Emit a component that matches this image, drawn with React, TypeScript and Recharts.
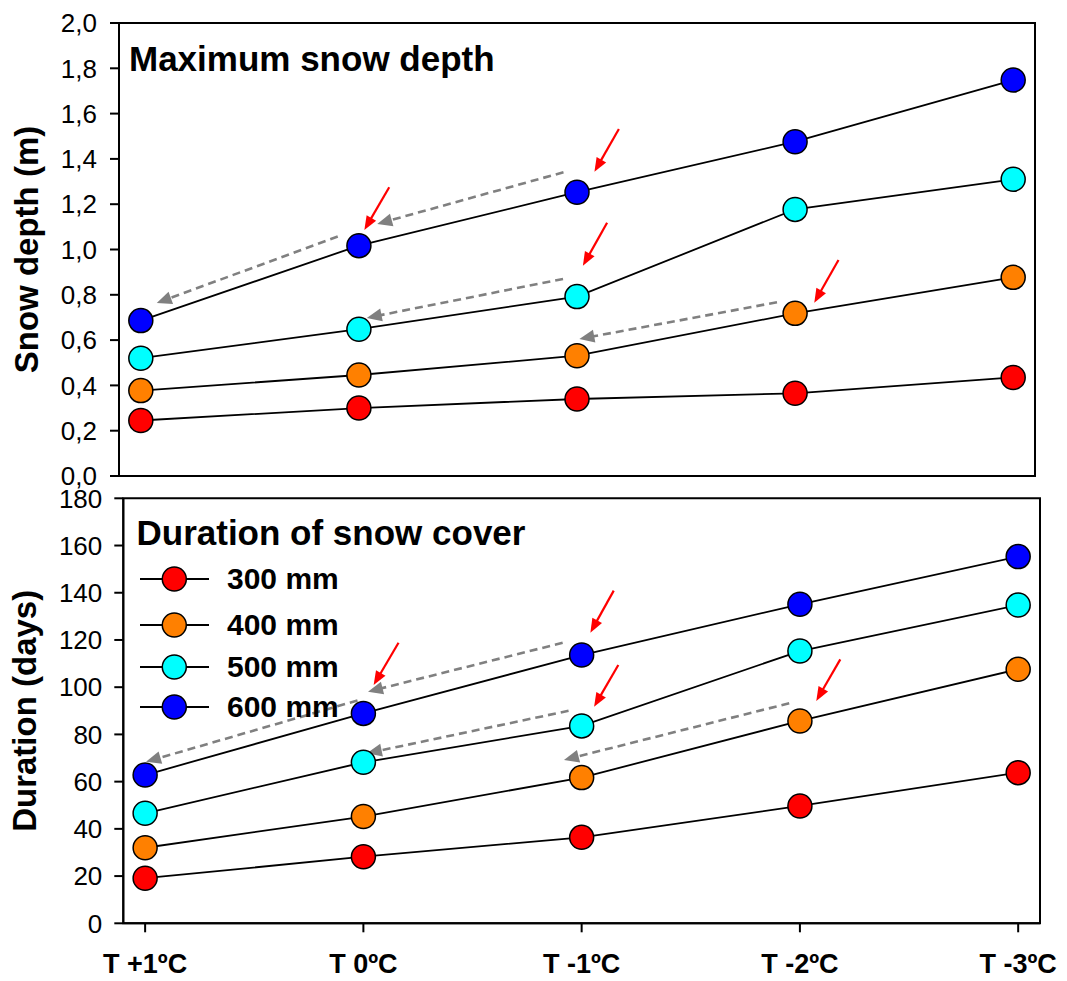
import React from "react";
import {
  LineChart,
  Line,
  XAxis,
  YAxis,
  ReferenceLine,
  ReferenceArea,
  Legend,
} from "recharts";

const categories = ["T +1ºC", "T 0ºC", "T -1ºC", "T -2ºC", "T -3ºC"];
const seriesNames = ["300 mm", "400 mm", "500 mm", "600 mm"];
const seriesKeys = ["s300", "s400", "s500", "s600"];
const seriesColors = ["#FF0000", "#FF8000", "#00FFFF", "#0000FF"];

// maximum snow depth (m)
const depth300 = [0.245, 0.3, 0.34, 0.365, 0.435];
const depth400 = [0.377, 0.446, 0.531, 0.718, 0.877];
const depth500 = [0.52, 0.648, 0.792, 1.177, 1.31];
const depth600 = [0.686, 1.017, 1.253, 1.476, 1.748];

// duration of snow cover (days)
const days300 = [19.1, 28.2, 36.4, 49.7, 63.8];
const days400 = [32.0, 45.2, 61.7, 85.7, 107.6];
const days500 = [46.6, 68.2, 83.6, 115.3, 134.8];
const days600 = [62.8, 88.9, 113.6, 135.1, 155.3];

const depthTicks = [0, 0.2, 0.4, 0.6, 0.8, 1.0, 1.2, 1.4, 1.6, 1.8, 2.0];
const daysTicks = [0, 20, 40, 60, 80, 100, 120, 140, 160, 180];
const xTicks = [0, 1, 2, 3, 4];
const xDomain: [number, number] = [-0.1, 4.1];

// annotation arrows: [x0, y0, x1(tip), y1(tip)] in data units
const depthGrayArrows = [
  [0.903, 1.057, 0.073, 0.764],
  [1.938, 1.341, 1.084, 1.113],
  [1.936, 0.87, 1.036, 0.698],
  [2.917, 0.767, 2.011, 0.605],
];
const depthRedArrows = [
  [1.139, 1.275, 1.025, 1.086],
  [2.192, 1.532, 2.08, 1.343],
  [2.138, 1.118, 2.027, 0.928],
  [3.199, 0.954, 3.088, 0.765],
];
const daysGrayArrows = [
  [0.973, 94.4, 0.004, 68.4],
  [1.913, 118.8, 1.021, 98.1],
  [1.94, 90.0, 1.016, 72.0],
  [2.951, 93.2, 1.919, 69.2],
];
const daysRedArrows = [
  [1.161, 118.8, 1.047, 100.9],
  [2.147, 140.9, 2.04, 123.1],
  [2.168, 109.4, 2.057, 91.7],
  [3.185, 111.8, 3.075, 94.2],
];

const font = "'Liberation Sans', Arial, Helvetica, sans-serif";

function buildRows(series: number[][]) {
  return categories.map((_, i) => {
    const row: Record<string, number> = { x: i };
    seriesKeys.forEach((k, j) => (row[k] = series[j][i]));
    return row;
  });
}

const depthData = buildRows([depth300, depth400, depth500, depth600]);
const daysData = buildRows([days300, days400, days500, days600]);

function arrowShape(gray: boolean) {
  return (p: any) => {
    const { x1, y1, x2, y2 } = p;
    const dx = x2 - x1;
    const dy = y2 - y1;
    const len = Math.hypot(dx, dy) || 1;
    const ux = dx / len;
    const uy = dy / len;
    const hl = gray ? 15 : 14;
    const hw = gray ? 6.5 : 5.5;
    const bx = x2 - ux * hl;
    const by = y2 - uy * hl;
    const nx = -uy;
    const ny = ux;
    const color = gray ? "#808080" : "#FF0000";
    return (
      <g>
        <line
          x1={x1}
          y1={y1}
          x2={bx + ux * 2}
          y2={by + uy * 2}
          stroke={color}
          strokeWidth={gray ? 2.6 : 2.2}
          strokeDasharray={gray ? "8 5" : undefined}
        />
        <polygon
          points={`${x2},${y2} ${bx + nx * hw},${by + ny * hw} ${bx - nx * hw},${by - ny * hw}`}
          fill={color}
        />
      </g>
    );
  };
}

function arrows(list: number[][], gray: boolean, prefix: string) {
  return list.map((a, i) => (
    <ReferenceLine
      key={prefix + i}
      segment={[
        { x: a[0], y: a[1] },
        { x: a[2], y: a[3] },
      ]}
      shape={arrowShape(gray)}
    />
  ));
}

function series() {
  return seriesKeys.map((k, j) => (
    <Line
      key={k}
      dataKey={k}
      name={seriesNames[j]}
      stroke="#000"
      strokeWidth={1.8}
      dot={{ r: 12, fill: seriesColors[j], stroke: "#000", strokeWidth: 1.5 }}
      activeDot={false}
      isAnimationActive={false}
    />
  ));
}

const legendRowGaps = [0, 6.3, 1.4, 0];

function LegendBox() {
  return (
    <div style={{ fontFamily: font }}>
      {seriesNames.map((n, j) => (
        <div
          key={n}
          style={{ display: "flex", alignItems: "center", height: 40, marginTop: legendRowGaps[j] }}
        >
          <svg width={70} height={40}>
            <line x1={0} y1={20} x2={69} y2={20} stroke="#000" strokeWidth={1.8} />
            <circle cx={34.3} cy={20} r={12} fill={seriesColors[j]} stroke="#000" strokeWidth={1.5} />
          </svg>
          <span style={{ marginLeft: 17, fontSize: 30, fontWeight: "bold", lineHeight: "40px" }}>{n}</span>
        </div>
      ))}
    </div>
  );
}

function yLabel(text: string, x: number) {
  return (props: any) => {
    const vb = props.viewBox || {};
    const cy = vb.y + vb.height / 2;
    return (
      <text
        x={x}
        y={cy}
        transform={`rotate(-90 ${x} ${cy})`}
        textAnchor="middle"
        fontFamily={font}
        fontSize={33}
        fontWeight="bold"
        fill="#000"
      >
        {text}
      </text>
    );
  };
}

const axisStroke = { stroke: "#000", strokeWidth: 2 };

export default function App() {
  return (
    <div style={{ position: "absolute", left: 0, top: 0, width: 1067, height: 981, background: "#fff" }}>
      <div style={{ position: "absolute", left: 0, top: 470 }}>
        <LineChart
          width={1067}
          height={511}
          data={daysData}
          margin={{ top: 28.3, right: 27, left: 63.3, bottom: 7.7 }}
          style={{ fontFamily: font }}
        >
          <ReferenceArea
            x1={xDomain[0]}
            x2={xDomain[1]}
            y1={0}
            y2={180}
            fill="none"
            fillOpacity={0}
            stroke="#000"
            strokeWidth={2}
          />
          <XAxis
            dataKey="x"
            type="number"
            domain={xDomain}
            ticks={xTicks}
            interval={0}
            height={50}
            tickSize={9}
            tickMargin={22}
            axisLine={axisStroke}
            tickLine={axisStroke}
            tick={{ fill: "#000", fontSize: 27, fontWeight: "bold", fontFamily: font }}
            tickFormatter={(v: number) => categories[v] ?? ""}
          />
          <YAxis
            type="number"
            domain={[0, 180]}
            ticks={daysTicks}
            interval={0}
            width={60}
            tickSize={9}
            tickMargin={12}
            axisLine={axisStroke}
            tickLine={axisStroke}
            tick={{ fill: "#000", fontSize: 26, fontFamily: font }}
            label={{ content: yLabel("Duration (days)", 36) }}
          />
          {arrows(daysGrayArrows, true, "tg")}
          {arrows(daysRedArrows, false, "tr")}
          {series()}
          <Legend
            layout="vertical"
            verticalAlign="middle"
            align="center"
            wrapperStyle={{ top: 89, left: 140, width: 320 }}
            content={() => <LegendBox />}
          />
          <text x={136.5} y={75} fontFamily={font} fontSize={35} fontWeight="bold" fill="#000">
            Duration of snow cover
          </text>
        </LineChart>
      </div>
      <div style={{ position: "absolute", left: 0, top: 0 }}>
        <LineChart
          width={1067}
          height={500}
          data={depthData}
          margin={{ top: 23, right: 32, left: 59, bottom: 10 }}
          style={{ fontFamily: font }}
        >
          <ReferenceArea
            x1={xDomain[0]}
            x2={xDomain[1]}
            y1={0}
            y2={2}
            fill="none"
            fillOpacity={0}
            stroke="#000"
            strokeWidth={2}
          />
          <XAxis
            dataKey="x"
            type="number"
            domain={xDomain}
            ticks={xTicks}
            interval={0}
            tick={false}
            height={14}
            tickSize={9}
            axisLine={axisStroke}
            tickLine={axisStroke}
          />
          <YAxis
            type="number"
            domain={[0, 2]}
            ticks={depthTicks}
            interval={0}
            width={60}
            tickSize={9}
            tickMargin={13}
            axisLine={axisStroke}
            tickLine={axisStroke}
            tick={{ fill: "#000", fontSize: 26, fontFamily: font }}
            tickFormatter={(v: number) => v.toFixed(1).replace(".", ",")}
            label={{ content: yLabel("Snow depth (m)", 38) }}
          />
          {arrows(depthGrayArrows, true, "dg")}
          {arrows(depthRedArrows, false, "dr")}
          {series()}
          <text x={129} y={71} fontFamily={font} fontSize={35} fontWeight="bold" fill="#000">
            Maximum snow depth
          </text>
        </LineChart>
      </div>
    </div>
  );
}
